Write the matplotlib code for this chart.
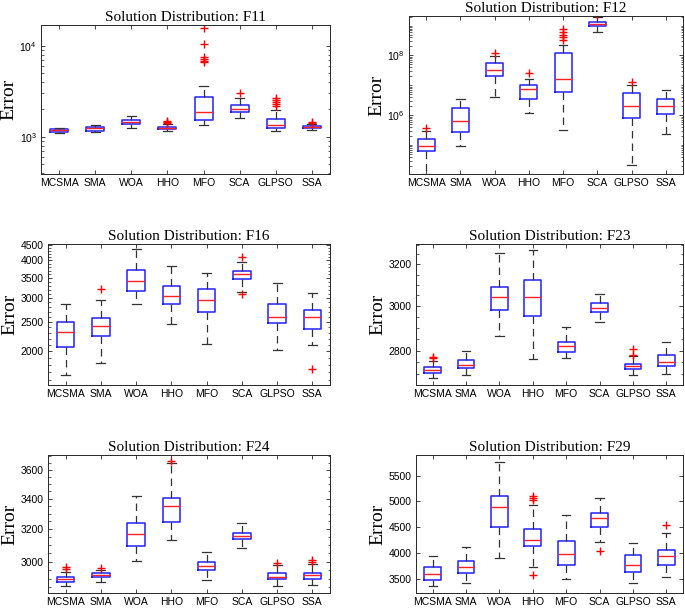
import matplotlib
matplotlib.use('Agg')
import matplotlib.pyplot as plt
from matplotlib.ticker import FixedLocator, FixedFormatter, MultipleLocator, NullFormatter, LogLocator

plt.rcParams['font.family'] = ['Liberation Sans', 'DejaVu Sans']
plt.rcParams['mathtext.default'] = 'regular'

algorithms = ['MCSMA', 'SMA', 'WOA', 'HHO', 'MFO', 'SCA', 'GLPSO', 'SSA']

# box statistics per algorithm: [lower whisker, q1, median, q3, upper whisker]
f11_box = [[1105, 1134, 1173, 1212, 1254],
           [1124, 1163, 1233, 1275, 1352],
           [1233, 1386, 1470, 1546, 1708],
           [1163, 1212, 1254, 1285, 1375],
           [1340, 1532, 1890, 2754, 3630],
           [1625, 1874, 2036, 2235, 2664],
           [1153, 1243, 1363, 1585, 1987],
           [1182, 1233, 1275, 1307, 1390]]
f11_out = [[], [], [], [1420, 1460, 1500], [6580, 6850, 7150, 7450, 10350, 15850],
           [3045], [2160, 2270, 2390, 2510, 2640], [1410, 1450]]

f12_box = [[1.05e4, 6.3e4, 9.5e4, 1.6e5, 2.9e5],
           [9.1e4, 2.7e5, 6.6e5, 1.8e6, 3.5e6],
           [4.2e6, 2.0e7, 3.2e7, 5.5e7, 9.3e7],
           [1.14e6, 3.55e6, 7.4e6, 1.0e7, 1.68e7],
           [3.3e5, 5.8e6, 1.6e7, 1.2e8, 2.2e8],
           [6.3e8, 9.5e8, 1.15e9, 1.34e9, 1.95e9],
           [2.2e4, 7.8e5, 2.0e6, 5.4e6, 1.0e7],
           [2.4e5, 1.1e6, 2.0e6, 3.6e6, 6.9e6]]
f12_out = [[3.8e5], [], [1.2e8], [2.67e7], [3.4e8, 4.2e8, 5.0e8, 6.0e8, 7.7e8],
           [2.2e9], [1.3e7], []]

f16_box = [[1669, 2062, 2313, 2503, 2873],
           [1829, 2243, 2416, 2575, 2948],
           [2858, 3165, 3418, 3728, 4382],
           [2452, 2858, 3039, 3281, 3839],
           [2110, 2702, 2954, 3214, 3643],
           [3149, 3469, 3604, 3699, 3941],
           [2020, 2472, 2601, 2858, 3366],
           [2102, 2367, 2588, 2730, 3118]]
f16_out = [[], [3223], [], [], [], [3086, 4118], [], [1743]]

f23_box = [[2682, 2706, 2717, 2728, 2755],
           [2695, 2724, 2740, 2758, 2800],
           [2864, 2981, 3042, 3091, 3255],
           [2764, 2956, 3042, 3126, 3272],
           [2767, 2793, 2819, 2839, 2905],
           [2929, 2975, 2989, 3014, 3059],
           [2696, 2720, 2735, 2744, 2777],
           [2702, 2733, 2753, 2780, 2839]]
f23_out = [[2767, 2774], [], [], [], [], [], [2780, 2806], []]

f24_box = [[2861, 2883, 2896, 2910, 2941],
           [2880, 2908, 2921, 2931, 2953],
           [3004, 3095, 3166, 3240, 3416],
           [3130, 3248, 3347, 3405, 3651],
           [2894, 2953, 2972, 3000, 3060],
           [3081, 3136, 3158, 3178, 3237],
           [2861, 2896, 2912, 2931, 2978],
           [2866, 2900, 2919, 2935, 2984]]
f24_out = [[2958, 2968], [2965], [], [3660], [], [], [2994], [2998, 3012]]

f29_box = [[3357, 3474, 3597, 3734, 3948],
           [3416, 3617, 3727, 3851, 4117],
           [3909, 4506, 4883, 5097, 5773],
           [3734, 4143, 4260, 4474, 4922],
           [3494, 3773, 3987, 4227, 4740],
           [4214, 4506, 4669, 4779, 5071],
           [3409, 3636, 3766, 3968, 4201],
           [3526, 3773, 3948, 4052, 4396]]
f29_out = [[], [], [], [3571, 5032, 5065, 5104], [], [4032], [], [4539]]

titles = ['F11', 'F12', 'F16', 'F23', 'F24', 'F29']

W, H = 685, 609
fig = plt.figure(figsize=(W / 100, H / 100), dpi=100)


def rect(l, r, t, b):
    return [l / W, 1 - b / H, (r - l) / W, (b - t) / H]


panels = [
    dict(box=f11_box, out=f11_out, rect=rect(41, 330, 25, 174), log=True,
         ylim=(390, 16900), major=[1e3, 1e4], labels=['$10^{3}$', '$10^{4}$'], minor='log'),
    dict(box=f12_box, out=f12_out, rect=rect(409, 683, 16, 174), log=True,
         ylim=(1.07e4, 2.1e9), major=[1e6, 1e8], labels=['$10^{6}$', '$10^{8}$'], minor='log'),
    dict(box=f16_box, out=f16_out, rect=rect(48, 330, 244, 385), log=True,
         ylim=(1542, 4536), major=[2000, 2500, 3000, 3500, 4000, 4500],
         labels=['2000', '2500', '3000', '3500', '4000', '4500'], minor=100),
    dict(box=f23_box, out=f23_out, rect=rect(416, 683, 244, 385), log=True,
         ylim=(2655, 3303), major=[2800, 3000, 3200],
         labels=['2800', '3000', '3200'], minor=50),
    dict(box=f24_box, out=f24_out, rect=rect(48, 330, 455, 593), log=True,
         ylim=(2819, 3707), major=[3000, 3200, 3400, 3600],
         labels=['3000', '3200', '3400', '3600'], minor=50),
    dict(box=f29_box, out=f29_out, rect=rect(416, 683, 455, 593), log=False,
         ylim=(3221, 5903), major=[3500, 4000, 4500, 5000, 5500],
         labels=['3500', '4000', '4500', '5000', '5500'], minor=None),
]

positions = list(range(1, len(algorithms) + 1))

for p, name in zip(panels, titles):
    ax = fig.add_axes(p['rect'])
    stats = []
    for alg, b, o in zip(algorithms, p['box'], p['out']):
        stats.append(dict(label=alg, whislo=b[0], q1=b[1], med=b[2], q3=b[3],
                          whishi=b[4], fliers=o))
    ax.bxp(stats, positions=positions, widths=0.5, capwidths=0.25,
           boxprops=dict(color='#2020ff', linewidth=1.1),
           medianprops=dict(color='#ff2020', linewidth=1.0),
           whiskerprops=dict(color='#333333', linewidth=0.9, linestyle=(0, (6, 4))),
           capprops=dict(color='#333333', linewidth=0.9),
           flierprops=dict(marker='+', markeredgecolor='red', markersize=6,
                           markeredgewidth=1.0, linestyle='none'))
    if p['log']:
        ax.set_yscale('log')
    ax.set_xlim(0.5, 8.5)
    ax.set_ylim(*p['ylim'])
    ax.yaxis.set_major_locator(FixedLocator(p['major']))
    ax.yaxis.set_major_formatter(FixedFormatter(p['labels']))
    if p['minor'] == 'log':
        ax.yaxis.set_minor_locator(LogLocator(base=10, subs=[1, 2, 3, 4, 5, 6, 7, 8, 9], numticks=50))
    elif p['minor'] is not None:
        ax.yaxis.set_minor_locator(MultipleLocator(p['minor']))
    else:
        ax.yaxis.set_minor_locator(FixedLocator([]))
    ax.yaxis.set_minor_formatter(NullFormatter())
    ax.set_xticks(positions)
    ax.set_xticklabels(algorithms)
    ax.tick_params(axis='both', which='major', direction='in', length=3, width=0.6,
                   labelsize=7.5, top=True, right=True, pad=3, colors='#262626',
                   labelcolor='black')
    ax.tick_params(axis='y', which='minor', direction='in', length=1.8, width=0.5,
                   right=True, colors='#262626')
    for s in ax.spines.values():
        s.set_color('#262626')
        s.set_linewidth(0.7)
    ax.set_title('Solution Distribution: ' + name, fontsize=11,
                 family=['Liberation Serif', 'DejaVu Serif'], pad=3)
    ax.set_ylabel('Error', fontsize=14, family=['Liberation Serif', 'DejaVu Serif'],
                  labelpad=1.5)

fig.savefig('out.png', dpi=100)
